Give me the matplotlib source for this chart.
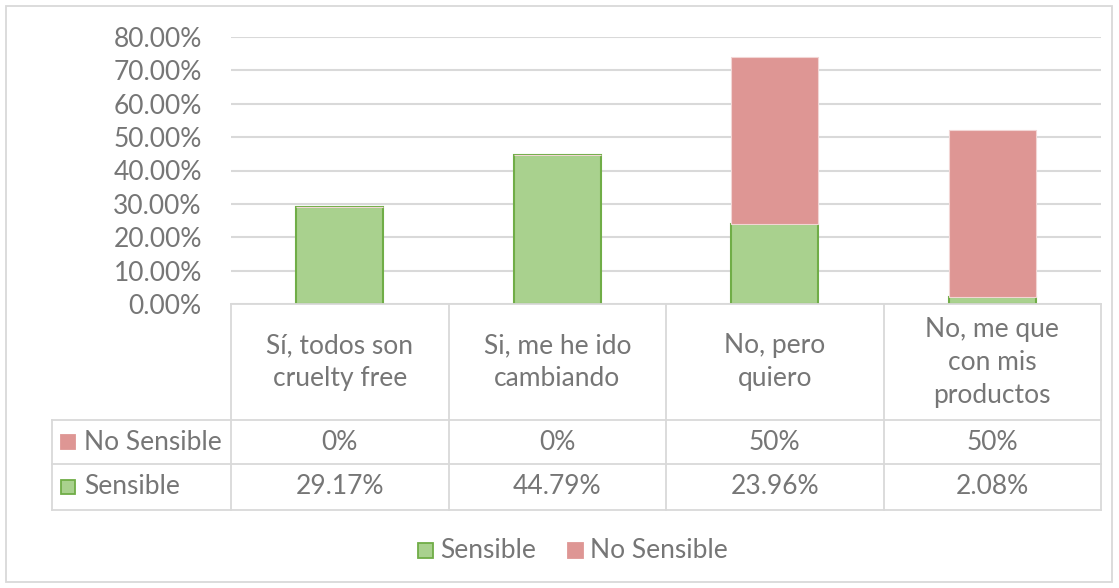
import matplotlib
matplotlib.use("Agg")
import matplotlib.pyplot as plt
from matplotlib.patches import Rectangle
from matplotlib.lines import Line2D
from matplotlib.ticker import FuncFormatter

# data
categories = ["Sí, todos son\ncruelty free", "Si, me he ido\ncambiando",
              "No, pero\nquiero", "No, me que\ncon mis\nproductos"]
sensible = [29.17, 44.79, 23.96, 2.08]
no_sensible = [0, 0, 50, 50]
sensible_labels = ["29.17%", "44.79%", "23.96%", "2.08%"]
no_sensible_labels = ["0%", "0%", "50%", "50%"]
yticks = [0, 10, 20, 30, 40, 50, 60, 70, 80]

GREEN = "#A9D18E"
GREEN_EDGE = "#70AD47"
RED = "#DE9694"
GRID = "#D9D9D9"
TXT = "#767676"
FS = 19

plt.rcParams["font.family"] = ["Lato", "DejaVu Sans"]

W, H = 1119, 588
fig = plt.figure(figsize=(W / 100, H / 100), dpi=100)


def fx(px):
    return px / W


def fy(py):
    return 1 - py / H


# outer chart border
fig.add_artist(Rectangle((fx(6), fy(582)), fx(1106), 576 / H, transform=fig.transFigure,
                         fill=False, ec=GRID, lw=1.3))

# bar area
left, right, top, bottom = 231, 1101, 37, 304
ax = fig.add_axes([fx(left), fy(bottom), fx(right - left), (bottom - top) / H])
x = range(len(categories))
ax.bar(x, sensible, width=0.4, color=GREEN, edgecolor=GREEN_EDGE, linewidth=1.5, zorder=3)
ax.bar(x, no_sensible, width=0.4, bottom=sensible, color=RED, edgecolor="#F2D6D5",
       linewidth=0.8, zorder=3)
ax.set_xlim(-0.5, len(categories) - 0.5)
ax.set_ylim(0, 80)
ax.set_yticks(yticks)
ax.yaxis.set_major_formatter(FuncFormatter(lambda v, p: f"{v:.2f}%"))
ax.yaxis.grid(True, color=GRID, lw=1.5, zorder=0)
ax.tick_params(axis="y", length=0, labelsize=FS, labelcolor=TXT, pad=21)
ax.set_xticks([])
for s in ax.spines.values():
    s.set_visible(False)

# data table
col_w = (right - left) / len(categories)
label_left = 52
row_edges = [304, 420, 464, 510]
tab = fig.add_artist
lw = 1.3
# horizontal lines
tab(Line2D([fx(left), fx(right)], [fy(row_edges[0])] * 2, transform=fig.transFigure, color=GRID, lw=lw))
for ry in row_edges[1:]:
    tab(Line2D([fx(label_left), fx(right)], [fy(ry)] * 2, transform=fig.transFigure, color=GRID, lw=lw))
# vertical lines
for i in range(len(categories) + 1):
    cx = left + i * col_w
    tab(Line2D([fx(cx)] * 2, [fy(row_edges[0]), fy(row_edges[-1])], transform=fig.transFigure, color=GRID, lw=lw))
tab(Line2D([fx(label_left)] * 2, [fy(row_edges[1]), fy(row_edges[-1])], transform=fig.transFigure, color=GRID, lw=lw))

for i, cat in enumerate(categories):
    cx = left + (i + 0.5) * col_w
    fig.text(fx(cx), fy((row_edges[0] + row_edges[1]) / 2), cat, ha="center", va="center",
             fontsize=FS, color=TXT, linespacing=1.4)
    fig.text(fx(cx), fy((row_edges[1] + row_edges[2]) / 2), no_sensible_labels[i], ha="center",
             va="center", fontsize=FS, color=TXT)
    fig.text(fx(cx), fy((row_edges[2] + row_edges[3]) / 2), sensible_labels[i], ha="center",
             va="center", fontsize=FS, color=TXT)

# row legend keys
for (name, fc, ec), (r0, r1) in zip([("No Sensible", RED, RED), ("Sensible", GREEN, GREEN_EDGE)],
                                    [(row_edges[1], row_edges[2]), (row_edges[2], row_edges[3])]):
    cy = (r0 + r1) / 2
    fig.add_artist(Rectangle((fx(61), fy(cy + 7)), fx(14), 14 / H, transform=fig.transFigure,
                             fc=fc, ec=ec, lw=1.3))
    fig.text(fx(84), fy(cy), name, ha="left", va="center", fontsize=FS, color=TXT)

# bottom legend
leg_y = 550
for name, fc, ec, px in [("Sensible", GREEN, GREEN_EDGE, 418), ("No Sensible", RED, RED, 568)]:
    fig.add_artist(Rectangle((fx(px), fy(leg_y + 8)), fx(15), 15 / H, transform=fig.transFigure,
                             fc=fc, ec=ec, lw=1.3))
    fig.text(fx(px + 22), fy(leg_y), name, ha="left", va="center", fontsize=FS, color=TXT)

fig.savefig("out.png", dpi=100)
